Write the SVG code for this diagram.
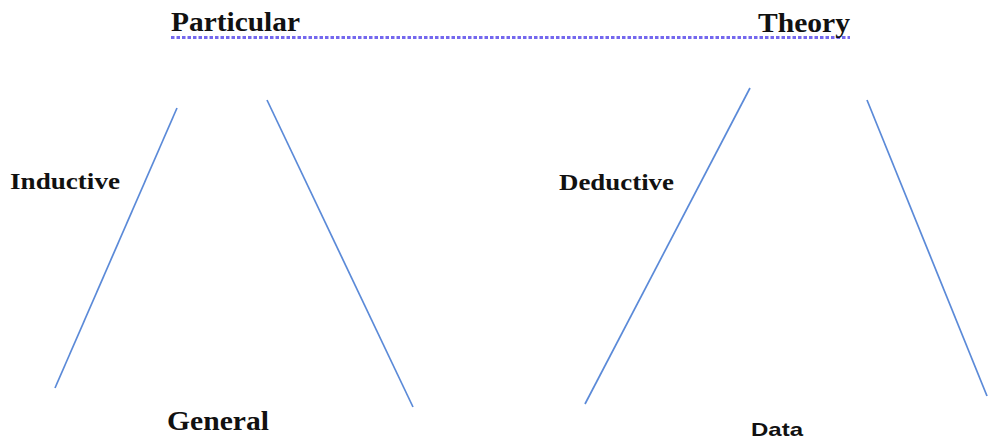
<svg xmlns="http://www.w3.org/2000/svg" width="988" height="439" viewBox="0 0 988 439">
<style>
.serif{font-family:"Liberation Serif","Times New Roman",serif;font-weight:bold;fill:#111}
.sans{font-family:"Liberation Sans",Arial,sans-serif;font-weight:bold;fill:#111}
.ln{stroke:#5b8ad8;stroke-width:1.7;fill:none}
</style>
<rect width="988" height="439" fill="#fff"/>
<g id="connectors">
<line class="ln" x1="177" y1="108" x2="55" y2="388"/>
<line class="ln" x1="267" y1="100" x2="413" y2="407"/>
<line class="ln" x1="750" y1="88" x2="585" y2="404"/>
<line class="ln" x1="867" y1="100" x2="987" y2="396"/>
<line x1="171" y1="37.5" x2="850" y2="37.5" stroke="#7468ee" stroke-width="3" stroke-dasharray="3.5 2"/>
</g>
<g id="particular"><text class="serif" x="171" y="31" font-size="28" textLength="129" lengthAdjust="spacingAndGlyphs">Particular</text></g>
<g id="theory"><text class="serif" x="758" y="32" font-size="28" textLength="92" lengthAdjust="spacingAndGlyphs">Theory</text></g>
<g id="inductive"><text class="serif" x="10" y="189" font-size="24" textLength="110" lengthAdjust="spacingAndGlyphs">Inductive</text></g>
<g id="deductive"><text class="serif" x="559" y="190" font-size="24" textLength="115" lengthAdjust="spacingAndGlyphs">Deductive</text></g>
<g id="general"><text class="serif" x="167" y="430" font-size="27" textLength="102" lengthAdjust="spacingAndGlyphs">General</text></g>
<g id="data"><text class="sans" x="751" y="436" font-size="19" textLength="52" lengthAdjust="spacingAndGlyphs">Data</text></g>
</svg>
